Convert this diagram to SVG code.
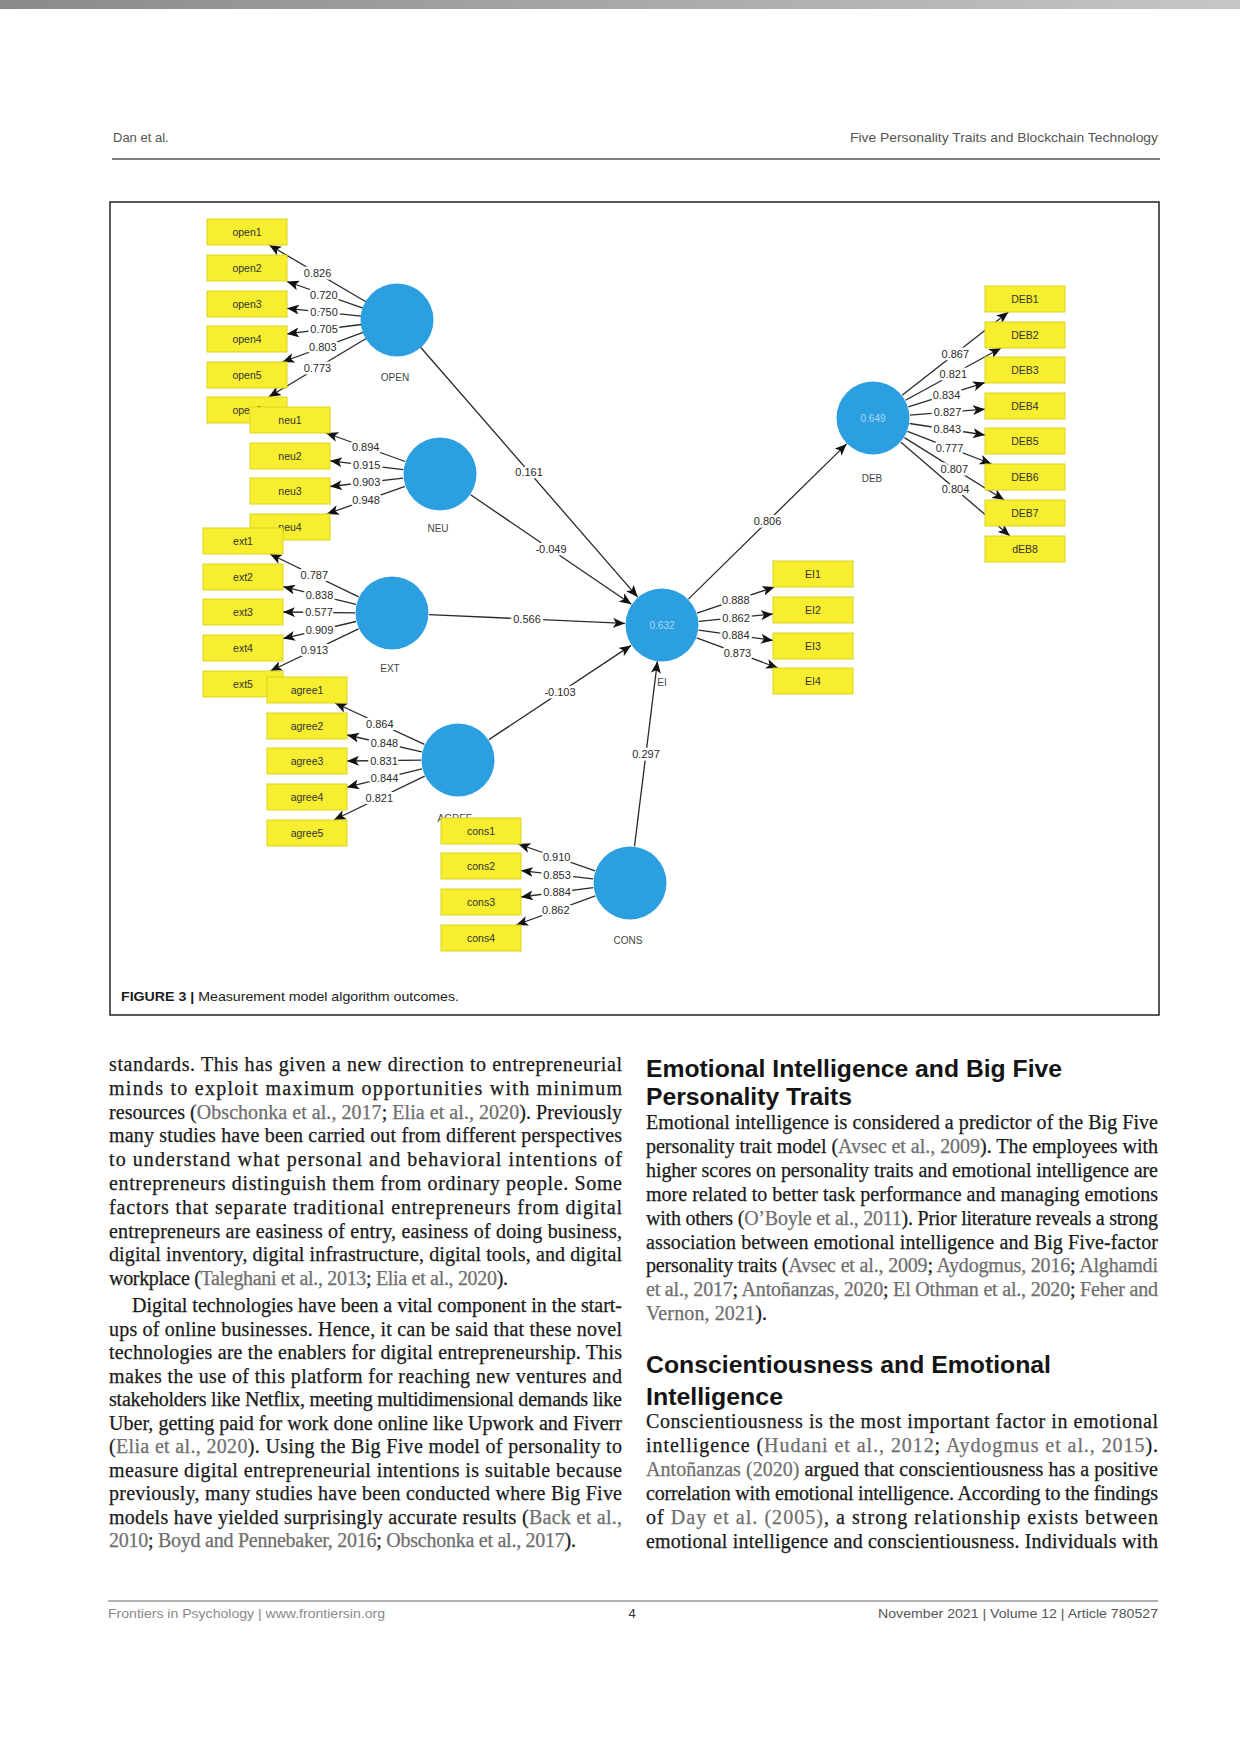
<svg xmlns="http://www.w3.org/2000/svg" width="1240" height="1753" viewBox="0 0 1240 1753">
<defs>
<linearGradient id="topbar" x1="0" y1="0" x2="1" y2="0">
<stop offset="0" stop-color="#8a8a8a"/>
<stop offset="1" stop-color="#c6c6c6"/>
</linearGradient>
<marker id="ah" viewBox="0 0 12 10" markerWidth="12" markerHeight="10" refX="12" refY="5" orient="auto" markerUnits="userSpaceOnUse">
<path d="M0,0 L12,5 L0,10 L3,5 Z" fill="#111"/>
</marker>
<style>
.ind{fill:#f6ee2e;stroke:#dcd41e;stroke-width:1}
.lat{fill:#2c9fe0}
.rt{font-family:"Liberation Sans",Arial,sans-serif;font-size:10.5px;fill:#333;text-anchor:middle}
.nl{font-family:"Liberation Sans",Arial,sans-serif;font-size:10px;fill:#444;text-anchor:middle}
.iv{font-family:"Liberation Sans",Arial,sans-serif;font-size:10px;fill:#a9d9f6;text-anchor:middle}
.ln{stroke:#2a2a2a;stroke-width:1.3;fill:none;marker-end:url(#ah)}
.lt{font-family:"Liberation Sans",Arial,sans-serif;font-size:11px;fill:#2a2a2a;text-anchor:middle;stroke:#fff;stroke-width:5;stroke-linejoin:round;paint-order:stroke}
.body{font-family:"Liberation Serif","Times New Roman",serif;font-size:20px;fill:#1a1a1a;stroke:#1a1a1a;stroke-width:0.25}
.cit{fill:#6e6e6e;stroke:#6e6e6e}
.h{font-family:"Liberation Sans",Arial,sans-serif;font-weight:bold;font-size:24.5px;fill:#141414}
.hdr{font-family:"Liberation Sans",Arial,sans-serif;font-size:13px;fill:#555}
.cap{font-family:"Liberation Sans",Arial,sans-serif;font-size:13px;fill:#1a1a1a}
</style>
</defs>
<rect x="0" y="0" width="1240" height="1753" fill="#ffffff"/>
<rect x="0" y="0" width="1240" height="9" fill="url(#topbar)"/>

<!-- header -->
<text class="hdr" x="113" y="142">Dan et al.</text>
<text class="hdr" x="1158" y="142" text-anchor="end" textLength="308" lengthAdjust="spacingAndGlyphs">Five Personality Traits and Blockchain Technology</text>
<line x1="112" y1="159" x2="1160" y2="159" stroke="#555" stroke-width="1.3"/>

<!-- figure frame -->
<rect x="110" y="202" width="1049" height="813" fill="none" stroke="#222" stroke-width="1.5"/>

<g id="connectors">
<!-- OPEN loadings -->
<line class="ln" x1="365.9" y1="301.8" x2="269.2" y2="245"/>
<line class="ln" x1="363" y1="308.2" x2="287" y2="281.5"/>
<line class="ln" x1="361.2" y1="316.2" x2="287" y2="308.3"/>
<line class="ln" x1="361.3" y1="324.5" x2="287" y2="333.9"/>
<line class="ln" x1="363.2" y1="332.4" x2="282.4" y2="362"/>
<line class="ln" x1="366.1" y1="338.5" x2="268.7" y2="397"/>
<!-- NEU loadings -->
<line class="ln" x1="405.2" y1="461.5" x2="326.1" y2="433"/>
<line class="ln" x1="403.3" y1="469.6" x2="330" y2="460.8"/>
<line class="ln" x1="403.2" y1="478.2" x2="330" y2="486.5"/>
<line class="ln" x1="405.1" y1="486.3" x2="326.8" y2="514"/>
<!-- EXT loadings -->
<line class="ln" x1="358.7" y1="596.9" x2="269.9" y2="554"/>
<line class="ln" x1="356" y1="604.3" x2="283" y2="586.7"/>
<line class="ln" x1="355" y1="612.8" x2="283" y2="612"/>
<line class="ln" x1="356" y1="621.5" x2="283" y2="638.6"/>
<line class="ln" x1="358.6" y1="628.9" x2="270.3" y2="671"/>
<!-- AGREE loadings -->
<line class="ln" x1="424.4" y1="744.4" x2="335.1" y2="703"/>
<line class="ln" x1="421.9" y1="751.9" x2="347" y2="735"/>
<line class="ln" x1="421" y1="760.2" x2="347" y2="761"/>
<line class="ln" x1="422.1" y1="768.8" x2="347" y2="787.2"/>
<line class="ln" x1="424.7" y1="776.1" x2="333.9" y2="820"/>
<!-- CONS loadings -->
<line class="ln" x1="595.1" y1="870.8" x2="518.3" y2="844"/>
<line class="ln" x1="593.2" y1="878.8" x2="521" y2="870.6"/>
<line class="ln" x1="593.3" y1="887.7" x2="521" y2="897"/>
<line class="ln" x1="595.3" y1="895.8" x2="516.2" y2="925"/>
<!-- EI loadings -->
<line class="ln" x1="697" y1="613.2" x2="774.5" y2="587"/>
<line class="ln" x1="698.8" y1="621.3" x2="773" y2="614"/>
<line class="ln" x1="698.6" y1="630.1" x2="773" y2="640.4"/>
<line class="ln" x1="696.7" y1="637.9" x2="778" y2="668"/>
<!-- DEB loadings -->
<line class="ln" x1="902.1" y1="395.2" x2="1008.4" y2="312"/>
<line class="ln" x1="905.5" y1="400.3" x2="1001.1" y2="348"/>
<line class="ln" x1="908.3" y1="406.9" x2="985" y2="382.6"/>
<line class="ln" x1="909.9" y1="415.1" x2="985" y2="409.2"/>
<line class="ln" x1="909.6" y1="423.5" x2="985" y2="435"/>
<line class="ln" x1="907.5" y1="431.4" x2="991.6" y2="464"/>
<line class="ln" x1="904.4" y1="437.6" x2="1004.2" y2="500"/>
<line class="ln" x1="901" y1="442.2" x2="1009.9" y2="536"/>
<!-- structural paths -->
<line class="ln" x1="420.6" y1="347.2" x2="637.7" y2="597.1"/>
<line class="ln" x1="470.6" y1="494.8" x2="631.4" y2="604.2"/>
<line class="ln" x1="429" y1="614.6" x2="625" y2="623.4"/>
<line class="ln" x1="488.9" y1="739.6" x2="631.1" y2="645.4"/>
<line class="ln" x1="634.5" y1="846.3" x2="657.4" y2="661.3"/>
<line class="ln" x1="688.4" y1="599.1" x2="846.6" y2="443.9"/>
<!-- labels -->
<text class="lt" x="317.6" y="277.3">0.826</text>
<text class="lt" x="323.8" y="298.5">0.720</text>
<text class="lt" x="324" y="316.1">0.750</text>
<text class="lt" x="324.1" y="333.1">0.705</text>
<text class="lt" x="322.8" y="351.1">0.803</text>
<text class="lt" x="317.4" y="371.7">0.773</text>
<text class="lt" x="365.7" y="451.2">0.894</text>
<text class="lt" x="366.7" y="469.1">0.915</text>
<text class="lt" x="366.6" y="486.2">0.903</text>
<text class="lt" x="366" y="504.1">0.948</text>
<text class="lt" x="314.3" y="579.3">0.787</text>
<text class="lt" x="319.5" y="599.4">0.838</text>
<text class="lt" x="319" y="616.3">0.577</text>
<text class="lt" x="319.5" y="633.9">0.909</text>
<text class="lt" x="314.4" y="653.9">0.913</text>
<text class="lt" x="379.8" y="727.6">0.864</text>
<text class="lt" x="384.4" y="747.3">0.848</text>
<text class="lt" x="384" y="764.5">0.831</text>
<text class="lt" x="384.5" y="781.9">0.844</text>
<text class="lt" x="379.3" y="801.9">0.821</text>
<text class="lt" x="556.7" y="861.3">0.910</text>
<text class="lt" x="557" y="878.6">0.853</text>
<text class="lt" x="557" y="896.3">0.884</text>
<text class="lt" x="555.8" y="914.3">0.862</text>
<text class="lt" x="735.8" y="604">0.888</text>
<text class="lt" x="736" y="621.6">0.862</text>
<text class="lt" x="735.8" y="639.2">0.884</text>
<text class="lt" x="737.4" y="656.9">0.873</text>
<text class="lt" x="955.3" y="357.5">0.867</text>
<text class="lt" x="953.3" y="378">0.821</text>
<text class="lt" x="946.6" y="398.7">0.834</text>
<text class="lt" x="947.5" y="416.1">0.827</text>
<text class="lt" x="947.3" y="433.2">0.843</text>
<text class="lt" x="949.5" y="451.6">0.777</text>
<text class="lt" x="954.3" y="472.7">0.807</text>
<text class="lt" x="955.5" y="493">0.804</text>
<text class="lt" x="529" y="475.9">0.161</text>
<text class="lt" x="551" y="553.4">-0.049</text>
<text class="lt" x="527" y="622.9">0.566</text>
<text class="lt" x="560" y="696.4">-0.103</text>
<text class="lt" x="646" y="757.9">0.297</text>
<text class="lt" x="767.5" y="525.4">0.806</text>
</g>

<!-- OPEN indicators -->
<g id="open1"><rect class="ind" x="207" y="219" width="80" height="26"/><text class="rt" x="247" y="235.7">open1</text></g>
<g id="open2"><rect class="ind" x="207" y="255" width="80" height="26"/><text class="rt" x="247" y="271.7">open2</text></g>
<g id="open3"><rect class="ind" x="207" y="291" width="80" height="26"/><text class="rt" x="247" y="307.7">open3</text></g>
<g id="open4"><rect class="ind" x="207" y="326" width="80" height="26"/><text class="rt" x="247" y="342.7">open4</text></g>
<g id="open5"><rect class="ind" x="207" y="362" width="80" height="26"/><text class="rt" x="247" y="378.7">open5</text></g>
<g id="open6"><rect class="ind" x="207" y="397" width="80" height="26"/><text class="rt" x="247" y="413.7">open6</text></g>
<g id="OPEN"><circle class="lat" cx="397" cy="320" r="36.5"/><text class="nl" x="395" y="381">OPEN</text></g>

<!-- NEU indicators -->
<g id="neu1"><rect class="ind" x="250" y="407" width="80" height="26"/><text class="rt" x="290" y="423.7">neu1</text></g>
<g id="neu2"><rect class="ind" x="250" y="443" width="80" height="26"/><text class="rt" x="290" y="459.7">neu2</text></g>
<g id="neu3"><rect class="ind" x="250" y="478" width="80" height="26"/><text class="rt" x="290" y="494.7">neu3</text></g>
<g id="neu4"><rect class="ind" x="250" y="514" width="80" height="26"/><text class="rt" x="290" y="530.7">neu4</text></g>
<g id="NEU"><circle class="lat" cx="440" cy="474" r="36.5"/><text class="nl" x="438" y="532">NEU</text></g>

<!-- EXT indicators -->
<g id="ext1"><rect class="ind" x="203" y="528" width="80" height="26"/><text class="rt" x="243" y="544.7">ext1</text></g>
<g id="ext2"><rect class="ind" x="203" y="564" width="80" height="26"/><text class="rt" x="243" y="580.7">ext2</text></g>
<g id="ext3"><rect class="ind" x="203" y="599" width="80" height="26"/><text class="rt" x="243" y="615.7">ext3</text></g>
<g id="ext4"><rect class="ind" x="203" y="635" width="80" height="26"/><text class="rt" x="243" y="651.7">ext4</text></g>
<g id="ext5"><rect class="ind" x="203" y="671" width="80" height="26"/><text class="rt" x="243" y="687.7">ext5</text></g>
<g id="EXT"><circle class="lat" cx="392" cy="613" r="36.5"/><text class="nl" x="390" y="672">EXT</text></g>

<!-- AGREE indicators -->
<g id="agree1"><rect class="ind" x="267" y="677" width="80" height="26"/><text class="rt" x="307" y="693.7">agree1</text></g>
<g id="agree2"><rect class="ind" x="267" y="713" width="80" height="26"/><text class="rt" x="307" y="729.7">agree2</text></g>
<g id="agree3"><rect class="ind" x="267" y="748" width="80" height="26"/><text class="rt" x="307" y="764.7">agree3</text></g>
<g id="agree4"><rect class="ind" x="267" y="784" width="80" height="26"/><text class="rt" x="307" y="800.7">agree4</text></g>
<g id="agree5"><rect class="ind" x="267" y="820" width="80" height="26"/><text class="rt" x="307" y="836.7">agree5</text></g>
<g id="AGREE"><circle class="lat" cx="458" cy="760" r="36.5"/><text class="nl" x="455" y="822">AGREE</text></g>

<!-- CONS indicators -->
<g id="cons1"><rect class="ind" x="441" y="818" width="80" height="26"/><text class="rt" x="481" y="834.7">cons1</text></g>
<g id="cons2"><rect class="ind" x="441" y="853" width="80" height="26"/><text class="rt" x="481" y="869.7">cons2</text></g>
<g id="cons3"><rect class="ind" x="441" y="889" width="80" height="26"/><text class="rt" x="481" y="905.7">cons3</text></g>
<g id="cons4"><rect class="ind" x="441" y="925" width="80" height="26"/><text class="rt" x="481" y="941.7">cons4</text></g>
<g id="CONS"><circle class="lat" cx="630" cy="883" r="36.5"/><text class="nl" x="628" y="944">CONS</text></g>

<!-- EI -->
<g id="EI"><circle class="lat" cx="662" cy="625" r="36.5"/><text class="iv" x="662" y="628.5">0.632</text><text class="nl" x="662" y="686">EI</text></g>
<g id="EI1"><rect class="ind" x="773" y="561" width="80" height="26"/><text class="rt" x="813" y="577.7">EI1</text></g>
<g id="EI2"><rect class="ind" x="773" y="597" width="80" height="26"/><text class="rt" x="813" y="613.7">EI2</text></g>
<g id="EI3"><rect class="ind" x="773" y="633" width="80" height="26"/><text class="rt" x="813" y="649.7">EI3</text></g>
<g id="EI4"><rect class="ind" x="773" y="668" width="80" height="26"/><text class="rt" x="813" y="684.7">EI4</text></g>

<!-- DEB -->
<g id="DEB"><circle class="lat" cx="873" cy="418" r="36.5"/><text class="iv" x="873" y="421.5">0.649</text><text class="nl" x="872" y="482">DEB</text></g>
<g id="DEB1"><rect class="ind" x="985" y="286" width="80" height="26"/><text class="rt" x="1025" y="302.7">DEB1</text></g>
<g id="DEB2"><rect class="ind" x="985" y="322" width="80" height="26"/><text class="rt" x="1025" y="338.7">DEB2</text></g>
<g id="DEB3"><rect class="ind" x="985" y="357" width="80" height="26"/><text class="rt" x="1025" y="373.7">DEB3</text></g>
<g id="DEB4"><rect class="ind" x="985" y="393" width="80" height="26"/><text class="rt" x="1025" y="409.7">DEB4</text></g>
<g id="DEB5"><rect class="ind" x="985" y="428" width="80" height="26"/><text class="rt" x="1025" y="444.7">DEB5</text></g>
<g id="DEB6"><rect class="ind" x="985" y="464" width="80" height="26"/><text class="rt" x="1025" y="480.7">DEB6</text></g>
<g id="DEB7"><rect class="ind" x="985" y="500" width="80" height="26"/><text class="rt" x="1025" y="516.7">DEB7</text></g>
<g id="dEB8"><rect class="ind" x="985" y="536" width="80" height="26"/><text class="rt" x="1025" y="552.7">dEB8</text></g>

<!-- caption -->
<text class="cap" x="121" y="1001" textLength="338" lengthAdjust="spacingAndGlyphs"><tspan font-weight="bold">FIGURE 3 |</tspan> Measurement model algorithm outcomes.</text>

<!-- left column -->
<g id="left-column">
<text class="body" x="109" y="1071" textLength="513" lengthAdjust="spacing">standards. This has given a new direction to entrepreneurial</text>
<text class="body" x="109" y="1094.8" textLength="513" lengthAdjust="spacing">minds to exploit maximum opportunities with minimum</text>
<text class="body" x="109" y="1118.6" textLength="513" lengthAdjust="spacing">resources (<tspan class="cit">Obschonka et al., 2017</tspan>; <tspan class="cit">Elia et al., 2020</tspan>). Previously</text>
<text class="body" x="109" y="1142.4" textLength="513" lengthAdjust="spacing">many studies have been carried out from different perspectives</text>
<text class="body" x="109" y="1166.2" textLength="513" lengthAdjust="spacing">to understand what personal and behavioral intentions of</text>
<text class="body" x="109" y="1190" textLength="513" lengthAdjust="spacing">entrepreneurs distinguish them from ordinary people. Some</text>
<text class="body" x="109" y="1213.8" textLength="513" lengthAdjust="spacing">factors that separate traditional entrepreneurs from digital</text>
<text class="body" x="109" y="1237.6" textLength="513" lengthAdjust="spacing">entrepreneurs are easiness of entry, easiness of doing business,</text>
<text class="body" x="109" y="1261.4" textLength="513" lengthAdjust="spacing">digital inventory, digital infrastructure, digital tools, and digital</text>
<text class="body" x="109" y="1285.2" textLength="399" lengthAdjust="spacing">workplace (<tspan class="cit">Taleghani et al., 2013</tspan>; <tspan class="cit">Elia et al., 2020</tspan>).</text>
<text class="body" x="132" y="1312" textLength="490" lengthAdjust="spacing">Digital technologies have been a vital component in the start-</text>
<text class="body" x="109" y="1335.5" textLength="513" lengthAdjust="spacing">ups of online businesses. Hence, it can be said that these novel</text>
<text class="body" x="109" y="1359" textLength="513" lengthAdjust="spacing">technologies are the enablers for digital entrepreneurship. This</text>
<text class="body" x="109" y="1382.5" textLength="513" lengthAdjust="spacing">makes the use of this platform for reaching new ventures and</text>
<text class="body" x="109" y="1406" textLength="513" lengthAdjust="spacing">stakeholders like Netflix, meeting multidimensional demands like</text>
<text class="body" x="109" y="1429.5" textLength="513" lengthAdjust="spacing">Uber, getting paid for work done online like Upwork and Fiverr</text>
<text class="body" x="109" y="1453" textLength="513" lengthAdjust="spacing">(<tspan class="cit">Elia et al., 2020</tspan>). Using the Big Five model of personality to</text>
<text class="body" x="109" y="1476.5" textLength="513" lengthAdjust="spacing">measure digital entrepreneurial intentions is suitable because</text>
<text class="body" x="109" y="1500" textLength="513" lengthAdjust="spacing">previously, many studies have been conducted where Big Five</text>
<text class="body" x="109" y="1523.5" textLength="513" lengthAdjust="spacing">models have yielded surprisingly accurate results (<tspan class="cit">Back et al.,</tspan></text>
<text class="body" x="109" y="1547" textLength="467" lengthAdjust="spacing"><tspan class="cit">2010</tspan>; <tspan class="cit">Boyd and Pennebaker, 2016</tspan>; <tspan class="cit">Obschonka et al., 2017</tspan>).</text>
</g>

<!-- right column -->
<g id="right-column">
<text class="h" x="646" y="1077" textLength="416" lengthAdjust="spacingAndGlyphs">Emotional Intelligence and Big Five</text>
<text class="h" x="646" y="1105" textLength="206" lengthAdjust="spacingAndGlyphs">Personality Traits</text>
<text class="body" x="646" y="1129" textLength="512" lengthAdjust="spacing">Emotional intelligence is considered a predictor of the Big Five</text>
<text class="body" x="646" y="1152.9" textLength="512" lengthAdjust="spacing">personality trait model (<tspan class="cit">Avsec et al., 2009</tspan>). The employees with</text>
<text class="body" x="646" y="1176.8" textLength="512" lengthAdjust="spacing">higher scores on personality traits and emotional intelligence are</text>
<text class="body" x="646" y="1200.7" textLength="512" lengthAdjust="spacing">more related to better task performance and managing emotions</text>
<text class="body" x="646" y="1224.6" textLength="512" lengthAdjust="spacing">with others (<tspan class="cit">O’Boyle et al., 2011</tspan>). Prior literature reveals a strong</text>
<text class="body" x="646" y="1248.5" textLength="512" lengthAdjust="spacing">association between emotional intelligence and Big Five-factor</text>
<text class="body" x="646" y="1272.4" textLength="512" lengthAdjust="spacing">personality traits (<tspan class="cit">Avsec et al., 2009</tspan>; <tspan class="cit">Aydogmus, 2016</tspan>; <tspan class="cit">Alghamdi</tspan></text>
<text class="body" x="646" y="1296.3" textLength="512" lengthAdjust="spacing"><tspan class="cit">et al., 2017</tspan>; <tspan class="cit">Antoñanzas, 2020</tspan>; <tspan class="cit">El Othman et al., 2020</tspan>; <tspan class="cit">Feher and</tspan></text>
<text class="body" x="646" y="1320.2" textLength="121" lengthAdjust="spacing"><tspan class="cit">Vernon, 2021</tspan>).</text>
<text class="h" x="646" y="1373" textLength="405" lengthAdjust="spacingAndGlyphs">Conscientiousness and Emotional</text>
<text class="h" x="646" y="1405" textLength="137" lengthAdjust="spacingAndGlyphs">Intelligence</text>
<text class="body" x="646" y="1428" textLength="512" lengthAdjust="spacing">Conscientiousness is the most important factor in emotional</text>
<text class="body" x="646" y="1452" textLength="512" lengthAdjust="spacing">intelligence (<tspan class="cit">Hudani et al., 2012</tspan>; <tspan class="cit">Aydogmus et al., 2015</tspan>).</text>
<text class="body" x="646" y="1476" textLength="512" lengthAdjust="spacing"><tspan class="cit">Antoñanzas (2020)</tspan> argued that conscientiousness has a positive</text>
<text class="body" x="646" y="1500" textLength="512" lengthAdjust="spacing">correlation with emotional intelligence. According to the findings</text>
<text class="body" x="646" y="1524" textLength="512" lengthAdjust="spacing">of <tspan class="cit">Day et al. (2005)</tspan>, a strong relationship exists between</text>
<text class="body" x="646" y="1548" textLength="512" lengthAdjust="spacing">emotional intelligence and conscientiousness. Individuals with</text>
</g>

<!-- footer -->
<line x1="108" y1="1601" x2="1158" y2="1601" stroke="#666" stroke-width="1.2"/>
<text class="hdr" x="108" y="1618" style="fill:#8a8a8a" textLength="277" lengthAdjust="spacingAndGlyphs">Frontiers in Psychology | www.frontiersin.org</text>
<text class="hdr" x="632" y="1618" text-anchor="middle" style="fill:#333">4</text>
<text class="hdr" x="1158" y="1618" text-anchor="end" textLength="280" lengthAdjust="spacingAndGlyphs">November 2021 | Volume 12 | Article 780527</text>
</svg>
